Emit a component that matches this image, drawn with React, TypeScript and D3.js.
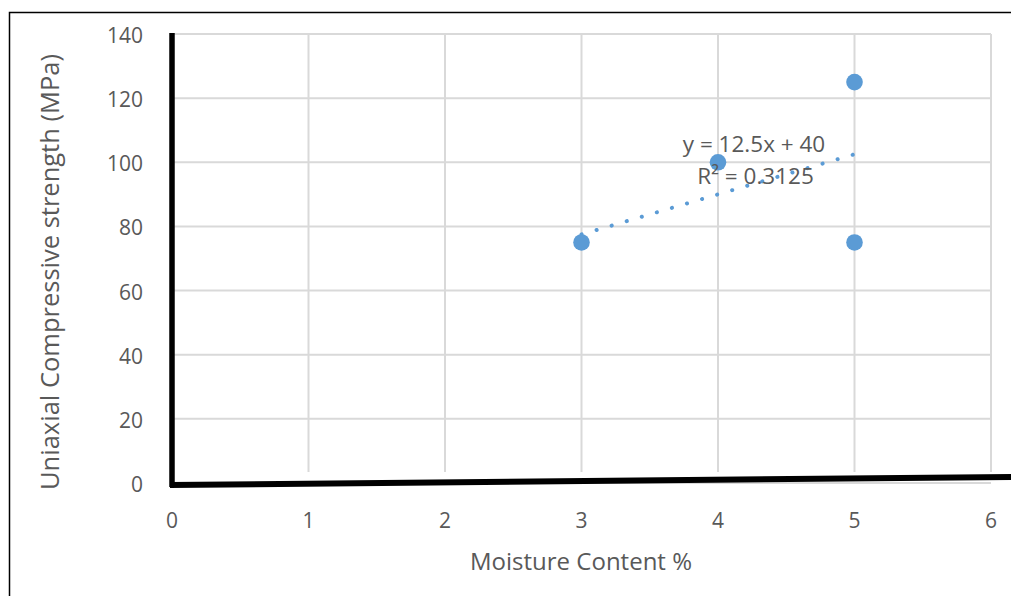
import React from "react";
import * as d3 from "d3";

const xTicks = [0, 1, 2, 3, 4, 5, 6];
const yTicks = [0, 20, 40, 60, 80, 100, 120, 140];
const moisture = [3, 4, 5, 5];
const strength = [75, 100, 125, 75];
const trendSlope = 12.5;
const trendIntercept = 40;
const trendRange = [3, 5];
const xTitle = "Moisture Content %";
const yTitle = "Uniaxial Compressive strength (MPa)";
const eqText = "y = 12.5x + 40";
const r2Text = "R² = 0.3125";

export default function App() {
  const W = 1011, H = 596;
  const x = d3.scaleLinear().domain([0, 6]).range([172, 991]);
  const y = d3.scaleLinear().domain([0, 140]).range([483, 34]);
  const font = "Open Sans, Noto Sans, sans-serif";
  const grey = "#595959";
  const trend = trendRange.map((v) => [x(v), y(trendSlope * v + trendIntercept)] as [number, number]);
  const line = d3.line();
  return (
    <svg width={W} height={H} style={{ position: "absolute", left: 0, top: 0, background: "#fff" }}>
      <rect x={0} y={0} width={W} height={H} fill="#fff" />
      <path d={`M9.5,${H} V12.5 H${W}`} fill="none" stroke="#000" strokeWidth={1.5} />
      {yTicks.map((t) => (
        <line key={"h" + t} x1={x(0)} x2={x(6)} y1={y(t)} y2={y(t)} stroke="#d9d9d9" strokeWidth={2} />
      ))}
      {xTicks.slice(1).map((t) => (
        <line key={"v" + t} x1={x(t)} x2={x(t)} y1={y(140)} y2={472} stroke="#d9d9d9" strokeWidth={2} />
      ))}
      <line x1={172} y1={33} x2={172} y2={487} stroke="#000" strokeWidth={5.5} />
      <line x1={170} y1={485} x2={1011} y2={477} stroke="#000" strokeWidth={6} />
      {yTicks.map((t) => (
        <text key={"yl" + t} x={143} y={y(t) + 9} textAnchor="end" fontSize={21} fill={grey} fontFamily={font}>{t}</text>
      ))}
      {xTicks.map((t) => (
        <text key={"xl" + t} x={x(t)} y={528} textAnchor="middle" fontSize={21} fill={grey} fontFamily={font}>{t}</text>
      ))}
      <text x={581} y={570} textAnchor="middle" fontSize={24} fill={grey} fontFamily={font}>{xTitle}</text>
      <text transform="translate(59,272) rotate(-90)" textAnchor="middle" fontSize={25.5} fill={grey} fontFamily={font}>{yTitle}</text>
      <path d={line(trend) || ""} fill="none" stroke="#5b9bd5" strokeWidth={4} strokeDasharray="0.1 15.6" strokeLinecap="round" />
      {moisture.map((m, i) => (
        <circle key={"p" + i} cx={x(m)} cy={y(strength[i])} r={8.3} fill="#5b9bd5" />
      ))}
      <text x={754} y={152} textAnchor="middle" fontSize={22.5} fill={grey} fontFamily={font}>{eqText}</text>
      <text x={755.5} y={183.5} textAnchor="middle" fontSize={22.5} fill={grey} fontFamily={font}>{r2Text}</text>
    </svg>
  );
}
